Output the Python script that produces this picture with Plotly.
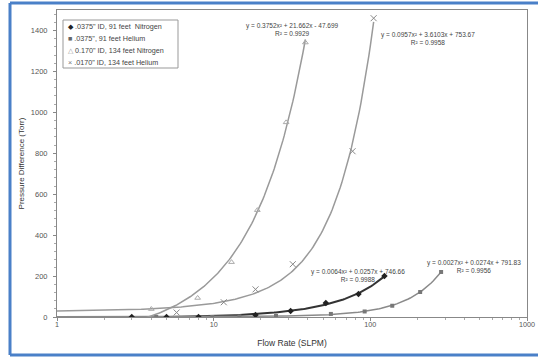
import numpy as np
import plotly.graph_objects as go

# ---- data ----
n375_x = [3.0, 5.0, 8.0, 18.5, 31, 52, 84, 123]
n375_y = [0, 0, 0, 10, 29, 68, 112, 200]

he375_x = [4.3, 9.8, 14.6, 25, 56, 92, 138, 208, 283]
he375_y = [0, 0, 3, 5, 15, 27, 55, 122, 220]

n170_x = [4.0, 7.9, 13, 19, 29, 38.5]
n170_y = [39, 93, 268, 522, 951, 1341]

he170_x = [5.8, 11.6, 18.5, 32, 77, 105]
he170_y = [22, 72, 135, 258, 810, 1460]

names = ['.0375" ID, 91 feet  Nitrogen', '.0375", 91 feet Helium',
         '0.170" ID, 134 feet Nitrogen', '.0170" ID, 134 feet Helium']
legend_symbols = ["◆", "■", "△", "×"]
legend_colors = ["#222222", "#666666", "#999999", "#777777"]

equations = ["y = 0.3752x² + 21.662x - 47.699<br>R² = 0.9929",
             "y = 0.0957x² + 3.6103x + 753.67<br>R² = 0.9958",
             "y = 0.0064x² + 0.0257x + 746.66<br>R² = 0.9988",
             "y = 0.0027x² + 0.0274x + 791.83<br>R² = 0.9956"]

FONT = "Liberation Sans, Arial, sans-serif"
fig = go.Figure()

def trend(xs, ys, color, width):
    c = np.polyfit(xs, ys, 2)
    xx = np.logspace(0, np.log10(max(xs)), 200)
    yy = np.polyval(c, xx)
    fig.add_trace(go.Scatter(x=xx, y=yy, mode="lines", showlegend=False,
                             line=dict(color=color, width=width), hoverinfo="skip"))

trend(n375_x, n375_y, "#333333", 2)
trend(he375_x, he375_y, "#8a8a8a", 1.5)
trend(n170_x, n170_y, "#9a9a9a", 1.5)
trend(he170_x, he170_y, "#9a9a9a", 1.5)

fig.add_trace(go.Scatter(x=n375_x, y=n375_y, mode="markers", name=names[0], showlegend=False,
                         marker=dict(symbol="diamond", size=5, color="#222222")))
fig.add_trace(go.Scatter(x=he375_x, y=he375_y, mode="markers", name=names[1], showlegend=False,
                         marker=dict(symbol="square", size=4, color="#777777")))
fig.add_trace(go.Scatter(x=n170_x, y=n170_y, mode="markers", name=names[2], showlegend=False,
                         marker=dict(symbol="triangle-up-open", size=5, color="#aaaaaa",
                                     line=dict(width=1))))
fig.add_trace(go.Scatter(x=he170_x, y=he170_y, mode="markers", name=names[3], showlegend=False,
                         marker=dict(symbol="x-thin-open", size=6, color="#888888",
                                     line=dict(width=1, color="#888888"))))

ann_pos = [(1.50, 1405), (2.37, 1362), (1.92, 205), (2.66, 248)]
for (ax, ay), txt in zip(ann_pos, equations):
    fig.add_annotation(x=ax, y=ay, text=txt, showarrow=False, xref="x", yref="y",
                       font=dict(family=FONT, size=6.5, color="#444444"), align="center")

# ---- manual compact legend (pixel positions converted to paper units) ----
PL, PT, PW, PH = 57, 10, 470, 307
def px(x): return (x - PL) / PW
def py(y): return (PT + PH - y) / PH
fig.add_shape(type="rect", xref="paper", yref="paper",
              x0=px(63), x1=px(178), y0=py(68), y1=py(20),
              line=dict(color="#999999", width=1), fillcolor="white", layer="above")
for i, (sym, col, nm) in enumerate(zip(legend_symbols, legend_colors, names)):
    yy = 26 + i * 12.2
    fig.add_annotation(xref="paper", yref="paper", x=px(66), y=py(yy),
                       xanchor="left", yanchor="middle", showarrow=False,
                       text=f'<span style="color:{col}">{sym}</span> {nm}',
                       font=dict(family=FONT, size=7.2, color="#444444"))

fig.update_layout(
    width=538, height=358,
    margin=dict(l=PL, r=538 - PL - PW, t=PT, b=358 - PT - PH),
    paper_bgcolor="white", plot_bgcolor="white",
    font=dict(family=FONT, color="#444444"),
    showlegend=False,
)
fig.update_xaxes(type="log", range=[0, 3], showgrid=False, zeroline=False,
                 showline=True, linecolor="#888888", linewidth=1, mirror=True,
                 ticks="outside", ticklen=3, tickcolor="#888888",
                 tickvals=[1, 10, 100, 1000], ticktext=["1", "10", "100", "1000"],
                 tickfont=dict(size=7.2, color="#555555"), ticklabelstandoff=-3,
                 ticklabeloverflow="allow", automargin=False,
                 title=dict(text="Flow Rate (SLPM)", font=dict(size=8.5, color="#333333"), standoff=12),
                 minor=dict(ticks="outside", ticklen=2, tickcolor="#aaaaaa",
                            tickvals=[2, 3, 4, 5, 6, 7, 8, 9, 20, 30, 40, 50, 60, 70, 80, 90,
                                      200, 300, 400, 500, 600, 700, 800, 900]))
fig.update_yaxes(range=[0, 1500], showgrid=False, zeroline=False,
                 showline=True, linecolor="#888888", linewidth=1, mirror=True,
                 ticks="outside", ticklen=3, tickcolor="#888888",
                 tickvals=[0, 200, 400, 600, 800, 1000, 1200, 1400],
                 tickfont=dict(size=7.5, color="#555555"), ticklabelstandoff=4,
                 automargin=False,
                 title=dict(text="Pressure Difference (Torr)", font=dict(size=8, color="#333333"), standoff=5),
                 minor=dict(ticks="outside", ticklen=2, tickcolor="#aaaaaa", dtick=40))

# blue frame of the scanned figure (right side lies outside the picture)
BLUE = "#4a80c8"
for (a0, b0, a1, b1) in [(10, 3, 545, 3), (10, 3, 10, 355), (10, 355, 545, 355)]:
    fig.add_shape(type="line", xref="paper", yref="paper",
                  x0=px(a0), y0=py(b0), x1=px(a1), y1=py(b1),
                  line=dict(color=BLUE, width=3), layer="above")

fig.write_html("out.html", config={"displayModeBar": False},
               post_script="document.body.style.margin='0';document.body.style.overflow='hidden';")
